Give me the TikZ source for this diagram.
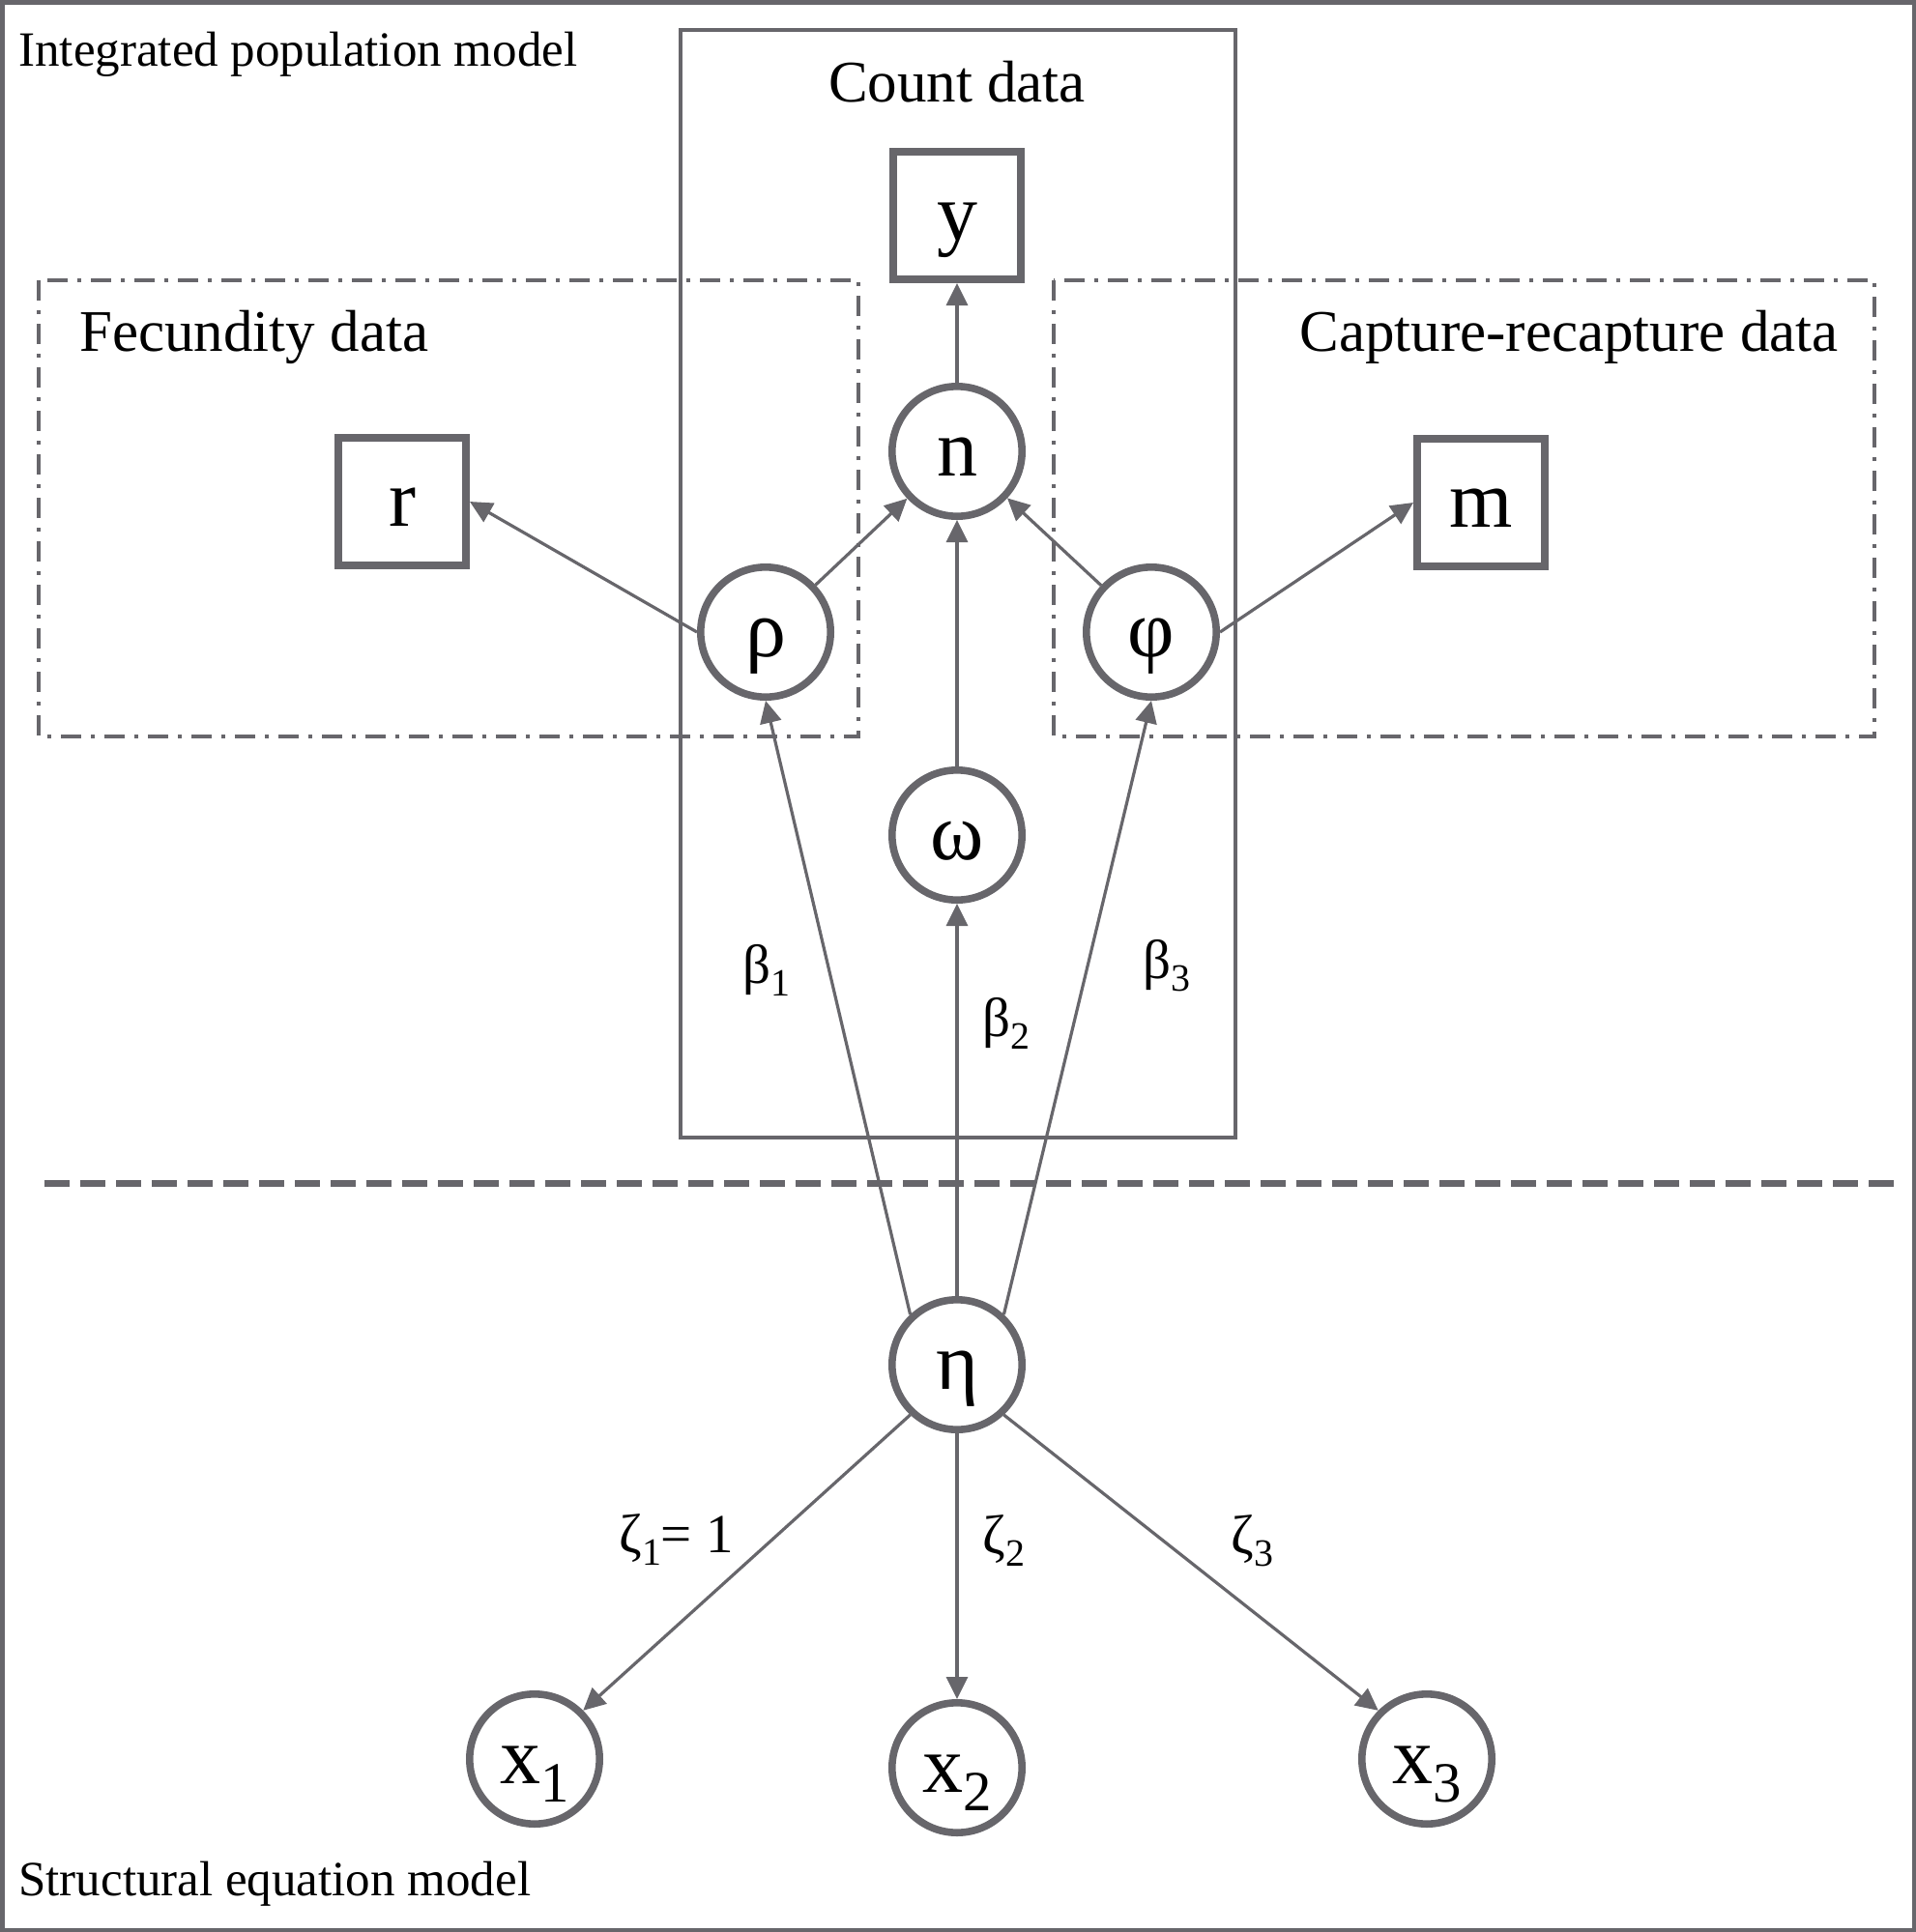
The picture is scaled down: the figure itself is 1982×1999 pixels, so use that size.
\documentclass[tikz,border=0pt]{standalone}
\usepackage{graphicx}
\usepackage{fontspec}
\setmainfont{Liberation Serif}
\usetikzlibrary{arrows.meta}
\definecolor{ipmgray}{RGB}{103,102,107}
\newcommand{\idx}[1]{\raisebox{-0.23em}{\scalebox{0.7}{#1}}}

\begin{document}
\begin{tikzpicture}[x=0.5pt,y=-0.5pt,
	latent/.style={circle,draw=ipmgray,fill=white,line width=3.8pt,minimum size=67.2pt,inner sep=0pt,
		font=\fontsize{42}{50}\selectfont,text height=29.4pt,text depth=4.2pt},
	observed/.style={rectangle,draw=ipmgray,fill=white,line width=3.8pt,minimum size=66.2pt,inner sep=0pt,
		font=\fontsize{42}{50}\selectfont,text height=29.4pt,text depth=4.2pt},
	coef/.style={inner sep=0pt,anchor=base west,font=\fontsize{28.5}{34}\selectfont},
	datatitle/.style={inner sep=0pt,font=\fontsize{30.5}{36}\selectfont},
	modeltitle/.style={inner sep=0pt,anchor=base west,font=\fontsize{25.5}{30}\selectfont},
	plate/.style={ipmgray,line width=1.75pt},
	subplate/.style={ipmgray,line width=2pt,dash pattern=on 10.5pt off 5pt on 2pt off 5pt},
	link/.style={color=ipmgray,line width=1.6pt,-{Triangle[length=11.5pt,width=11pt]}}]
	\useasboundingbox (0,0) rectangle (1982,1999);
	% frames
	\draw[ipmgray,line width=2.25pt] (2.25,2.25) rectangle (1979.75,1996.75);
	\draw[plate] (704,31) rectangle (1278,1177);
	\draw[subplate] (40,290) rectangle (888,762);
	\draw[subplate] (1090,290) rectangle (1939,762);
	\draw[ipmgray,line width=3.5pt,dash pattern=on 13pt off 5.5pt] (46,1224) -- (1963,1224);
	% titles
	\node[modeltitle] (ipm) at (19,68) {Integrated population model};
	\node[modeltitle] (sem) at (19,1961) {Structural equation model};
	\node[datatitle,anchor=base] (count) at (990,105) {Count data};
	\node[datatitle,anchor=base west] (fecundity) at (82,363) {Fecundity data};
	\node[datatitle,anchor=base east] (capture) at (1902,363) {Capture-recapture data};
	% nodes
	\node[observed] (y) at (990,223) {y};
	\node[latent] (n) at (990,467) {n};
	\node[observed] (r) at (416,519) {r};
	\node[observed] (m) at (1532,520) {m};
	\node[latent] (rho) at (792,654) {ρ};
	\node[latent] (phi) at (1191,654) {φ};
	\node[latent] (omega) at (990,864) {ω};
	\node[latent] (eta) at (990,1412) {η};
	\node[latent] (x1) at (553,1820) {x\idx{1}};
	\node[latent] (x2) at (990,1829) {x\idx{2}};
	\node[latent] (x3) at (1476,1820) {x\idx{3}};
	% coefficients
	\node[coef] (beta1) at (768,1017) {β\idx{1}};
	\node[coef] (beta2) at (1016,1072) {β\idx{2}};
	\node[coef] (beta3) at (1182,1012) {β\idx{3}};
	\node[coef] (zeta1) at (640,1606) {ζ\idx{1}= 1};
	\node[coef] (zeta2) at (1016,1607) {ζ\idx{2}};
	\node[coef] (zeta3) at (1273,1607) {ζ\idx{3}};
	\path[link]
	(n) edge (y)
	(rho) edge (n)
	(omega) edge (n)
	(phi) edge (n)
	(rho.west) edge (r.east)
	(phi.east) edge (m.west)
	(eta.133) edge (rho.south)
	(eta) edge (omega)
	(eta.47) edge (phi.south)
	(eta.-133) edge (x1.45)
	(eta) edge (x2)
	(eta.-47) edge (x3.135);
\end{tikzpicture}
\end{document}
